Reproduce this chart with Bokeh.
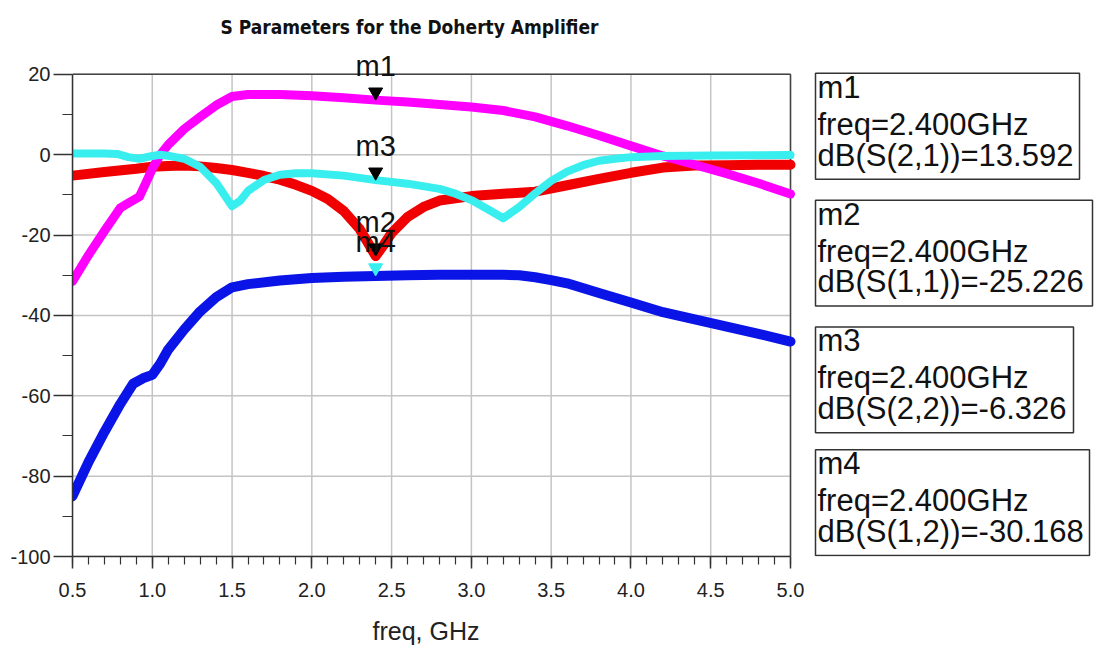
from bokeh.plotting import figure
from bokeh.models import Range1d, FixedTicker, Title
from bokeh.core.properties import value
from bokeh.embed import file_html
from bokeh.resources import INLINE

# ---------------- data ----------------
title_text = "S Parameters for the Doherty Amplifier"
x_label = "freq, GHz"

s21_freq = [0.5, 0.6, 0.7, 0.8, 0.86, 0.92, 0.96, 1.0, 1.05, 1.1, 1.2, 1.3, 1.4, 1.5, 1.6, 1.8,
            2.0, 2.2, 2.4, 2.6, 2.8, 3.0, 3.2, 3.4, 3.6, 3.8, 4.0, 4.2, 4.4, 4.6, 4.8, 5.0]
s21_db = [-31.5, -25.0, -19.0, -13.2, -11.8, -10.4, -7.0, -3.5, 0.0, 2.5, 6.4, 9.4, 12.3, 14.5, 15.0, 15.0,
          14.7, 14.2, 13.592, 13.1, 12.5, 11.9, 11.0, 9.4, 7.2, 4.8, 2.2, -0.3, -2.5, -4.7, -7.1, -9.8]

s11_freq = [0.5, 0.7, 0.9, 1.0, 1.1, 1.2, 1.3, 1.4, 1.5, 1.6, 1.7, 1.8, 1.9, 2.0, 2.1, 2.2, 2.3, 2.35,
            2.4, 2.45, 2.5, 2.6, 2.7, 2.8, 3.0, 3.2, 3.4, 3.6, 3.8, 4.0, 4.2, 4.4, 4.6, 4.8, 5.0]
s11_db = [-5.2, -4.3, -3.5, -3.0, -2.8, -2.7, -2.9, -3.3, -3.8, -4.5, -5.3, -6.2, -7.5, -9.0, -11.0, -14.0,
          -18.5, -21.8, -25.226, -22.5, -19.5, -15.5, -13.0, -11.4, -10.3, -9.7, -9.2, -7.6, -6.0, -4.5,
          -3.2, -2.7, -2.6, -2.5, -2.5]

s22_freq = [0.5, 0.6, 0.7, 0.78, 0.85, 0.92, 1.0, 1.05, 1.12, 1.2, 1.3, 1.4, 1.5, 1.55, 1.6, 1.7, 1.8,
            1.9, 2.0, 2.2, 2.4, 2.6, 2.8, 2.9, 3.0, 3.1, 3.2, 3.3, 3.4, 3.5, 3.6, 3.7, 3.8, 3.9, 4.0,
            4.2, 4.5, 5.0]
s22_db = [0.3, 0.3, 0.3, 0.2, -0.6, -1.0, -0.3, 0.0, -0.4, -1.0, -3.0, -7.0, -12.8, -11.5, -9.0, -6.3,
          -5.0, -4.6, -4.6, -5.2, -6.326, -7.2, -8.5, -9.7, -11.3, -13.5, -15.8, -13.0, -9.6, -6.5,
          -4.2, -2.6, -1.5, -1.0, -0.6, -0.3, -0.2, -0.1]

s12_freq = [0.5, 0.6, 0.7, 0.8, 0.88, 0.95, 1.0, 1.05, 1.1, 1.2, 1.3, 1.4, 1.5, 1.6, 1.8, 2.0, 2.2,
            2.4, 2.6, 2.8, 3.0, 3.2, 3.3, 3.4, 3.5, 3.6, 3.8, 4.0, 4.2, 4.4, 4.6, 4.8, 5.0]
s12_db = [-85.0, -76.5, -69.0, -62.0, -57.0, -55.5, -54.8, -52.0, -48.5, -43.5, -39.0, -35.5, -33.0,
          -32.2, -31.3, -30.7, -30.4, -30.168, -30.0, -29.9, -29.9, -29.9, -30.0, -30.5, -31.2, -32.0,
          -34.4, -36.8, -39.2, -41.0, -42.8, -44.6, -46.5]

marker_freq = 2.4
marker_names = ["m1", "m2", "m3", "m4"]
marker_params = ["dB(S(2,1))", "dB(S(1,1))", "dB(S(2,2))", "dB(S(1,2))"]
marker_values = [13.592, -25.226, -6.326, -30.168]

x_ticks = [0.5, 1.0, 1.5, 2.0, 2.5, 3.0, 3.5, 4.0, 4.5, 5.0]
x_minor = [round(0.5 + 0.1 * i, 1) for i in range(46)]
y_ticks = [-100, -80, -60, -40, -20, 0, 20]
y_minor = list(range(-100, 21, 10))

# ---------------- styles / layout ----------------
C_S21 = "#FF00FF"
C_S11 = "#F00000"
C_S22 = "#38EEEE"
C_S12 = "#0A14E6"
C_GRID = "#C4C4C4"
C_AX = "#333333"
FONT = "Liberation Sans"

X0, X1 = 0.5, 5.0          # plotted data extent
Y0, Y1 = -100, 20
W, H = 1096, 660
PLOT_L, PLOT_R, PLOT_T, PLOT_B = 72, 790, 74, 557   # pixel box of the data area
BORDER_B = H - PLOT_B
XS = (X1 - X0) / (PLOT_R - PLOT_L)   # data units per pixel
YS = (Y1 - Y0) / (PLOT_B - PLOT_T)


def px_to_x(px):
    return X0 + (px - PLOT_L) * XS


def py_to_y(py):
    return Y1 - (py - PLOT_T) * YS


# the frame spans the whole canvas right of / above the data area so that
# the margin annotations (title, marker labels, readouts) are not clipped
p = figure(width=W, height=H,
           x_range=Range1d(X0, px_to_x(W)), y_range=Range1d(Y0, py_to_y(0)),
           output_backend="svg", toolbar_location=None,
           min_border_left=PLOT_L, min_border_right=0,
           min_border_top=0, min_border_bottom=BORDER_B)
p.background_fill_color = "white"
p.border_fill_color = "white"
p.outline_line_color = None
p.grid.visible = False

# axes (bounded to the data area)
p.xaxis.ticker = FixedTicker(ticks=x_ticks, minor_ticks=x_minor)
p.yaxis.ticker = FixedTicker(ticks=y_ticks, minor_ticks=y_minor)
p.xaxis.bounds = (X0, X1)
p.yaxis.bounds = (Y0, Y1)
p.xaxis.major_label_overrides = {t: f"{t:.1f}" for t in x_ticks}
p.yaxis.major_label_overrides = {t: str(t) for t in y_ticks}
for ax in (p.xaxis[0], p.yaxis[0]):
    ax.axis_line_color = C_AX
    ax.axis_line_width = 1.5
    ax.major_tick_line_color = C_AX
    ax.minor_tick_line_color = C_AX
    ax.major_tick_line_width = 1.5
    ax.minor_tick_line_width = 1.2
    ax.major_tick_in = 0
    ax.minor_tick_in = 0
    ax.major_label_text_font = FONT
    ax.major_label_text_font_size = "20px"
    ax.major_label_text_color = "#222222"
p.yaxis.major_tick_out = 19
p.yaxis.minor_tick_out = 10
p.yaxis.major_label_standoff = 3
p.xaxis.major_tick_out = 12
p.xaxis.minor_tick_out = 8
p.xaxis.major_label_standoff = 14

# x-axis label, centred under the data area (not the whole frame)
p.add_layout(Title(text=x_label, align="left", offset=372 - PLOT_L, standoff=31,
                   text_font=FONT, text_font_style="normal", text_font_size="25px",
                   text_color="#222222"), "below")

# grid lines at the major ticks, limited to the data area
p.segment(x0=x_ticks, y0=[Y0] * len(x_ticks), x1=x_ticks, y1=[Y1] * len(x_ticks),
          line_color=C_GRID, line_width=1.5)
p.segment(x0=[X0] * len(y_ticks), y0=y_ticks, x1=[X1] * len(y_ticks), y1=y_ticks,
          line_color=C_GRID, line_width=1.5)
# top and right border of the data area
p.segment(x0=[X0, X1], y0=[Y1, Y0], x1=[X1, X1], y1=[Y1, Y1], line_color="#444444", line_width=1.5)

# curves
LW = 9
p.line(s12_freq, s12_db, line_color=C_S12, line_width=LW + 1, line_join="round", line_cap="round")
p.line(s11_freq, s11_db, line_color=C_S11, line_width=LW + 1, line_join="round", line_cap="round")
p.line(s21_freq, s21_db, line_color=C_S21, line_width=LW, line_join="round", line_cap="round")
p.line(s22_freq, s22_db, line_color=C_S22, line_width=LW - 1, line_join="round", line_cap="round")

# marker triangles: tip at the marker value
TRI_SIZE = 14
tip_shift = 1.155 * TRI_SIZE / 2 * YS
marker_colors = ["#000000", "#000000", "#000000", C_S22]
p.scatter([marker_freq] * len(marker_values), [v + tip_shift for v in marker_values],
          marker="inverted_triangle", size=TRI_SIZE, fill_color=marker_colors,
          line_color=marker_colors)
p.text(x=[marker_freq] * len(marker_values), y=[v + 34 * YS for v in marker_values],
       text=marker_names, text_align="center", text_baseline="alphabetic",
       text_font=value(FONT), text_font_size="29px", text_color="#111111")

# title
p.text(x=[px_to_x(409)], y=[py_to_y(27)], text=[title_text], text_align="center",
       text_baseline="middle", text_font=value("DejaVu Sans Condensed"),
       text_font_style="bold", text_font_size="19px", text_color="#111111")

# ---------------- marker readout boxes (right margin) ----------------
box_left_px = 815
box_tops_px = [73, 200, 327, 450]
box_rights_px = [1079, 1092, 1073, 1089]
box_h_px = 106
p.quad(left=[px_to_x(box_left_px)] * 4, right=[px_to_x(r) for r in box_rights_px],
       top=[py_to_y(t) for t in box_tops_px], bottom=[py_to_y(t + box_h_px) for t in box_tops_px],
       fill_color="white", line_color="#333333", line_width=1.5)

tx, ty, tt = [], [], []
for name, par, v, top in zip(marker_names, marker_params, marker_values, box_tops_px):
    lines = [name, f"freq={marker_freq:.3f}GHz", f"{par}={v:.3f}"]
    for off, line in zip([14, 51, 82], lines):
        tx.append(px_to_x(box_left_px + 2))
        ty.append(py_to_y(top + off))
        tt.append(line)
p.text(x=tx, y=ty, text=tt, text_font_size="31px", text_baseline="alphabetic",
       text_align="left", text_color="#111111", text_font=value(FONT))

open("out.html", "w").write(file_html(p, INLINE))
